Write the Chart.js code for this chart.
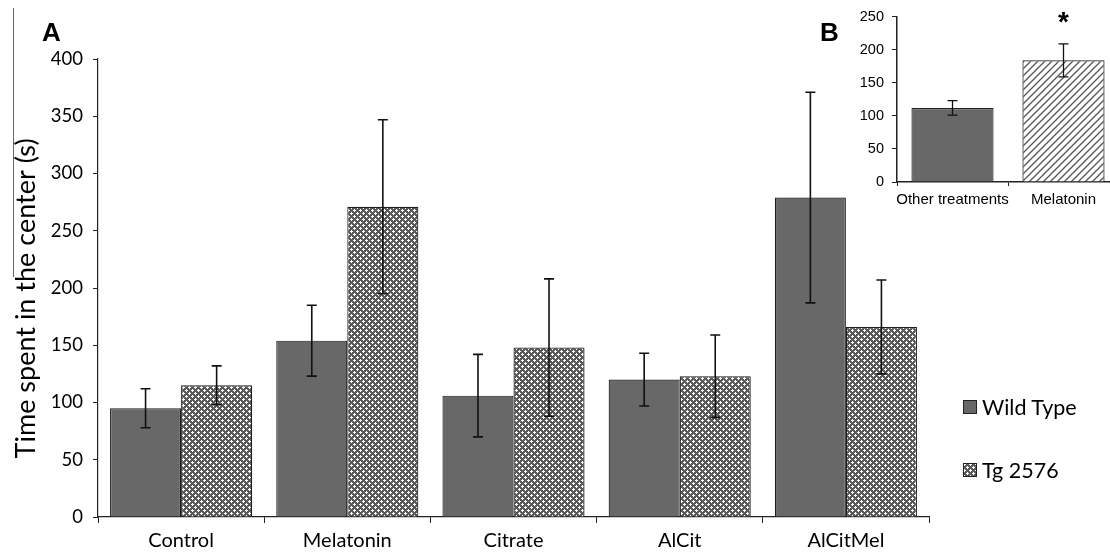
<!DOCTYPE html>
<html>
<head>
<meta charset="utf-8">
<script src="https://cdn.jsdelivr.net/npm/chart.js@4.4.1/dist/chart.umd.min.js"></script>
<style>
  html, body { margin: 0; padding: 0; background: #fff; overflow: hidden; }
  body { width: 1110px; height: 556px; position: relative; }
  #main { position: absolute; left: 0; top: 0; }
  #inset { position: absolute; left: 840px; top: 0; }
  .panel { position: absolute; font: bold 26px "Liberation Sans", Arial, sans-serif; line-height: 26px; }
  .stray { position: absolute; left: 13px; top: 8px; width: 0; height: 269px; border-left: 1px solid #666; }
  .legend { position: absolute; left: 963px; font: 21.5px Lato, sans-serif; color: #000; }
  .legend .row { position: absolute; left: 0; display: flex; align-items: center; white-space: nowrap; height: 22px; }
  .legend canvas { border: 1px solid #222; margin-right: 5px; }
</style>
</head>
<body>
<div class="stray"></div>
<canvas id="main" width="1110" height="556"></canvas>
<canvas id="inset" width="285" height="215"></canvas>
<div class="panel" style="left:42px; top:19px;">A</div>
<div class="panel" style="left:820px; top:19px;">B</div>
<div class="legend">
  <div class="row" style="top:396px;"><canvas id="swWT" width="12" height="12"></canvas>Wild Type</div>
  <div class="row" style="top:459px;"><canvas id="swTg" width="12" height="12"></canvas>Tg 2576</div>
</div>
<script>
// panel A data
const categories = ['Control', 'Melatonin', 'Citrate', 'AlCit', 'AlCitMel'];
const wildType = [95, 154, 106, 120, 279];
const wildTypeErr = [17, 31, 36, 23, 92];
const tg2576 = [115, 271, 148, 123, 166];
const tg2576Err = [17, 76, 60, 36, 41];
const yTicksA = [0, 50, 100, 150, 200, 250, 300, 350, 400];

// panel B data
const insetCategories = ['Other treatments', 'Melatonin'];
const insetValues = [112, 184];
const insetErr = [11, 25];
const insetMarks = ['', '*'];
const yTicksB = [0, 50, 100, 150, 200, 250];

const WT_GREY = '#686868';

// crosshatch dots used for Tg 2576
function dotPattern() {
  const c = document.createElement('canvas');
  c.width = 6; c.height = 6;
  const g = c.getContext('2d');
  g.fillStyle = '#5a5a5a';
  g.fillRect(0, 0, 6, 6);
  g.fillStyle = '#ffffff';
  // plus at the centre
  g.fillRect(3, 2, 1, 3);
  g.fillRect(2, 3, 3, 1);
  // plus at the corner (wraps)
  g.fillRect(0, 0, 2, 1);
  g.fillRect(0, 0, 1, 2);
  g.fillRect(5, 0, 1, 1);
  g.fillRect(0, 5, 1, 1);
  return g.createPattern(c, 'repeat');
}

// diagonal hatch used in inset
function hatchPattern() {
  const c = document.createElement('canvas');
  c.width = 7; c.height = 7;
  const g = c.getContext('2d');
  g.fillStyle = '#fff';
  g.fillRect(0, 0, 7, 7);
  g.strokeStyle = '#555';
  g.lineWidth = 1.3;
  g.beginPath();
  g.moveTo(-1, 8); g.lineTo(8, -1);
  g.moveTo(-4, 4); g.lineTo(4, -4);
  g.moveTo(3, 11); g.lineTo(11, 3);
  g.stroke();
  return g.createPattern(c, 'repeat');
}

const dots = dotPattern();
const hatch = hatchPattern();

// legend swatches
(function () {
  let g = document.getElementById('swWT').getContext('2d');
  g.fillStyle = WT_GREY; g.fillRect(0, 0, 12, 12);
  g = document.getElementById('swTg').getContext('2d');
  g.fillStyle = dots; g.fillRect(0, 0, 12, 12);
})();

const errorBars = {
  id: 'errorBars',
  afterDatasetsDraw(chart, args, opts) {
    const ctx = chart.ctx;
    const y = chart.scales.y;
    ctx.save();
    ctx.strokeStyle = '#111';
    ctx.lineWidth = opts.lineWidth || 1.5;
    chart.data.datasets.forEach((ds, i) => {
      const meta = chart.getDatasetMeta(i);
      meta.data.forEach((bar, j) => {
        const v = ds.data[j], e = ds.errors[j];
        const top = y.getPixelForValue(v + e);
        const bot = y.getPixelForValue(v - e);
        const w = opts.cap;
        ctx.beginPath();
        ctx.moveTo(bar.x, top); ctx.lineTo(bar.x, bot);
        ctx.moveTo(bar.x - w, top); ctx.lineTo(bar.x + w, top);
        ctx.moveTo(bar.x - w, bot); ctx.lineTo(bar.x + w, bot);
        ctx.stroke();
        if (ds.marks && ds.marks[j]) {
          ctx.fillStyle = '#000';
          ctx.font = 'bold 28px "Liberation Sans", Arial, sans-serif';
          ctx.textAlign = 'center';
          ctx.textBaseline = 'top';
          ctx.fillText(ds.marks[j], bar.x, top - 35);
        }
      });
    });
    ctx.restore();
  }
};

new Chart(document.getElementById('main'), {
  type: 'bar',
  data: {
    labels: categories,
    datasets: [
      {
        label: 'Wild Type',
        data: wildType,
        errors: wildTypeErr,
        backgroundColor: WT_GREY,
        borderColor: '#1e1e1e',
        borderWidth: 1.2
      },
      {
        label: 'Tg 2576',
        data: tg2576,
        errors: tg2576Err,
        backgroundColor: dots,
        borderColor: '#1e1e1e',
        borderWidth: 1.2
      }
    ]
  },
  options: {
    responsive: false,
    animation: false,
    events: [],
    layout: { padding: { left: 10, top: 59, right: 181, bottom: 0 } },
    categoryPercentage: 0.855,
    barPercentage: 1.0,
    plugins: {
      legend: { display: false },
      tooltip: { enabled: false },
      errorBars: { cap: 5, lineWidth: 1.6 }
    },
    scales: {
      x: {
        offset: true,
        grid: { display: true, drawOnChartArea: false, offset: true, tickLength: 6, color: '#222' },
        border: { display: true, color: '#222', width: 1.2 },
        ticks: { color: '#000', font: { family: 'Lato', size: 20 }, padding: 6, maxRotation: 0 },
        afterFit(s) { s.height = 39; }
      },
      y: {
        min: 0,
        max: 400,
        afterBuildTicks(s) { s.ticks = yTicksA.map(v => ({ value: v })); },
        grid: { display: true, drawOnChartArea: false, tickLength: 5, color: '#222' },
        border: { display: true, color: '#222', width: 1.2 },
        ticks: { color: '#000', font: { family: 'Lato', size: 18.5 }, padding: 10 },
        title: {
          display: true,
          // trailing spaces nudge the rotated title a little lower, as in the original
          text: 'Time spent in the center (s)   ',
          color: '#000',
          font: { family: 'Lato', size: 27 },
          padding: 0
        },
        afterFit(s) { s.width = 88; }
      }
    }
  },
  plugins: [errorBars]
});

new Chart(document.getElementById('inset'), {
  type: 'bar',
  data: {
    labels: insetCategories,
    datasets: [
      {
        data: insetValues,
        errors: insetErr,
        marks: insetMarks,
        backgroundColor: [WT_GREY, hatch],
        borderColor: '#222',
        borderWidth: 1.2
      }
    ]
  },
  options: {
    responsive: false,
    animation: false,
    events: [],
    layout: { padding: { left: 0, top: 15, right: 6, bottom: 0 } },
    categoryPercentage: 0.74,
    barPercentage: 1.0,
    plugins: {
      legend: { display: false },
      tooltip: { enabled: false },
      errorBars: { cap: 5, lineWidth: 1.3 }
    },
    scales: {
      x: {
        offset: true,
        grid: { display: true, drawOnChartArea: false, offset: true, tickLength: 4, color: '#222' },
        border: { display: true, color: '#222', width: 1.5 },
        ticks: {
          color: '#000',
          font: { family: 'Liberation Sans', size: 15 },
          padding: 5,
          maxRotation: 0,
          minRotation: 0,
          autoSkip: false
        },
        afterFit(s) { s.height = 33; }
      },
      y: {
        min: 0,
        max: 250,
        afterBuildTicks(s) { s.ticks = yTicksB.map(v => ({ value: v })); },
        grid: { display: true, drawOnChartArea: false, tickLength: 5, color: '#222' },
        border: { display: true, color: '#222', width: 1.5 },
        ticks: { color: '#000', font: { family: 'Liberation Sans', size: 14.5 }, padding: 8 },
        afterFit(s) { s.width = 57; }
      }
    }
  },
  plugins: [errorBars]
});
</script>
</body>
</html>
